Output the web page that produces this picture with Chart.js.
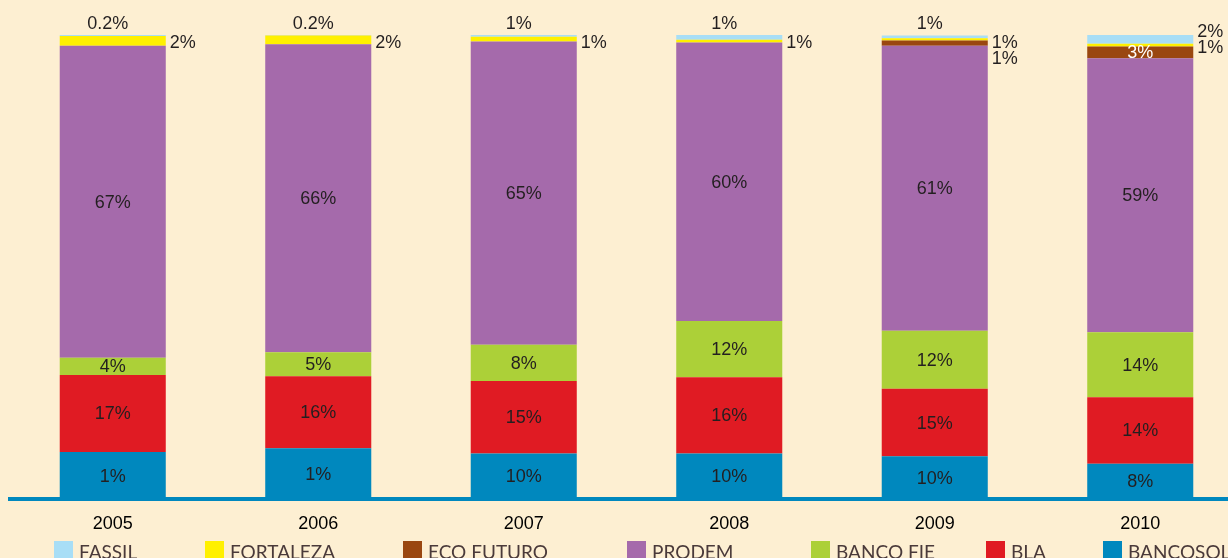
<!DOCTYPE html>
<html>
<head>
<meta charset="utf-8">
<script src="https://cdn.jsdelivr.net/npm/chart.js@4.4.0/dist/chart.umd.min.js"></script>
<style>
    html, body {
        margin: 0;
        padding: 0;
        width: 1228px;
        height: 558px;
        overflow: hidden;
        background: #fdefd2;
    }
    #wrap {
        position: relative;
        width: 1228px;
        height: 558px;
    }
    #chart {
        position: absolute;
        left: 0;
        top: 0;
    }
    #legend {
        position: absolute;
        left: 0;
        top: 540px;
        width: 1228px;
        height: 30px;
        font-family: Lato, "Open Sans", sans-serif;
        font-size: 19px;
        color: #4a3a3a;
    }
    .legend-item {
        position: absolute;
        top: 0;
        display: flex;
        align-items: flex-start;
        white-space: nowrap;
    }
    .legend-box {
        width: 19px;
        height: 19px;
        margin-right: 6px;
        margin-top: 1px;
    }
</style>
</head>
<body>
<div id="wrap">
    <canvas id="chart" width="1245" height="549"></canvas>
    <div id="legend"></div>
</div>
<script>
const years = ['2005', '2006', '2007', '2008', '2009', '2010'];

// segment heights (percent of each bar)
const bancosol  = [10.2, 11.0, 9.9, 9.9, 9.3, 7.7];
const bla       = [16.6, 15.5, 15.6, 16.4, 14.5, 14.3];
const bancoFie  = [3.7, 5.2, 7.8, 12.1, 12.5, 14.0];
const prodem    = [67.2, 66.3, 65.3, 60.0, 61.4, 59.0];
const ecoFuturo = [0, 0, 0, 0, 1.1, 2.5];
const fortaleza = [2.1, 1.9, 1.0, 0.6, 0.5, 0.6];
const fassil    = [0.2, 0.1, 0.4, 1.0, 0.6, 1.9];

// printed labels, as they appear on the chart
const bancosolLabels  = ['1%', '1%', '10%', '10%', '10%', '8%'];
const blaLabels       = ['17%', '16%', '15%', '16%', '15%', '14%'];
const bancoFieLabels  = ['4%', '5%', '8%', '12%', '12%', '14%'];
const prodemLabels    = ['67%', '66%', '65%', '60%', '61%', '59%'];
const ecoFuturoLabels = ['', '', '', '', '1%', '3%'];
const fortalezaLabels = ['2%', '2%', '1%', '1%', '1%', '1%'];
const fassilLabels    = ['0.2%', '0.2%', '1%', '1%', '1%', '2%'];

const colors = {
    bancosol: '#0088be',
    bla: '#e01b23',
    bancoFie: '#acd038',
    prodem: '#a56aab',
    ecoFuturo: '#9a4710',
    fortaleza: '#fff000',
    fassil: '#a8def6'
};

// stacked bottom to top
const datasets = [
    { label: 'BANCOSOL', data: bancosol, backgroundColor: colors.bancosol, valueLabels: bancosolLabels },
    { label: 'BLA', data: bla, backgroundColor: colors.bla, valueLabels: blaLabels },
    { label: 'BANCO FIE', data: bancoFie, backgroundColor: colors.bancoFie, valueLabels: bancoFieLabels },
    { label: 'PRODEM', data: prodem, backgroundColor: colors.prodem, valueLabels: prodemLabels },
    { label: 'ECO FUTURO', data: ecoFuturo, backgroundColor: colors.ecoFuturo, valueLabels: ecoFuturoLabels,
      labelModes: ['center', 'center', 'center', 'center', 'right', 'center'], labelColor: '#ffffff' },
    { label: 'FORTALEZA', data: fortaleza, backgroundColor: colors.fortaleza, valueLabels: fortalezaLabels,
      labelModes: ['right', 'right', 'right', 'right', 'right', 'right'] },
    { label: 'FASSIL', data: fassil, backgroundColor: colors.fassil, valueLabels: fassilLabels,
      labelModes: ['above', 'above', 'above', 'above', 'above', 'right'], isTop: true }
];

const segmentLabels = {
    id: 'segmentLabels',
    afterDatasetsDraw(chart) {
        const ctx = chart.ctx;
        const yScale = chart.scales.y;
        const top = yScale.getPixelForValue(100);
        ctx.save();
        ctx.font = '18px "Liberation Sans", Arial, sans-serif';
        ctx.textBaseline = 'middle';

        chart.data.labels.forEach((year, i) => {
            let prevRight = -Infinity;
            for (let d = chart.data.datasets.length - 1; d >= 0; d--) {
                const ds = chart.data.datasets[d];
                const text = ds.valueLabels[i];
                if (!text) continue;
                const el = chart.getDatasetMeta(d).data[i];
                const { x, y, base, width } = el.getProps(['x', 'y', 'base', 'width'], true);
                const mode = ds.labelModes ? ds.labelModes[i] : 'center';
                ctx.fillStyle = '#231f20';

                if (mode === 'center') {
                    if (ds.labelColor) ctx.fillStyle = ds.labelColor;
                    ctx.textAlign = 'center';
                    ctx.fillText(text, x, (y + base) / 2 + 1);
                } else if (mode === 'above') {
                    ctx.textAlign = 'center';
                    ctx.fillText(text, x - 5, top - 11);
                } else {
                    let ty = ds.isTop ? top - 3 : Math.max(prevRight + 16, top + 8);
                    prevRight = ty;
                    ctx.textAlign = 'left';
                    ctx.fillText(text, x + width / 2 + 4, ty);
                }
            }
        });
        ctx.restore();
    }
};

const chart = new Chart(document.getElementById('chart'), {
    type: 'bar',
    data: { labels: years, datasets: datasets },
    options: {
        responsive: false,
        animation: false,
        layout: { padding: { left: 10, right: 2, top: 35, bottom: 0 } },
        datasets: {
            bar: { categoryPercentage: 1, barPercentage: 0.516, borderWidth: 0 }
        },
        plugins: {
            legend: { display: false },
            tooltip: { enabled: false }
        },
        scales: {
            x: {
                stacked: true,
                grid: { display: false, drawTicks: false },
                border: { display: true, color: '#0088be', width: 4 },
                ticks: {
                    color: '#000000',
                    padding: 14,
                    font: { family: '"Liberation Sans", Arial, sans-serif', size: 18 }
                }
            },
            y: {
                stacked: true,
                display: false,
                min: 0,
                max: 100
            }
        }
    },
    plugins: [segmentLabels]
});

// legend, in the reference order
const legendEl = document.getElementById('legend');
const legendOrder = ['FASSIL', 'FORTALEZA', 'ECO FUTURO', 'PRODEM', 'BANCO FIE', 'BLA', 'BANCOSOL'];
const legendLeft = [54, 205, 403, 627, 811, 986, 1103];
legendOrder.forEach((name, k) => {
    const ds = datasets.find(d => d.label === name);
    const item = document.createElement('div');
    item.className = 'legend-item';
    item.style.left = legendLeft[k] + 'px';
    item.innerHTML = `<span class="legend-box" style="background:${ds.backgroundColor}"></span><span>${name}</span>`;
    legendEl.appendChild(item);
});
</script>
</body>
</html>
